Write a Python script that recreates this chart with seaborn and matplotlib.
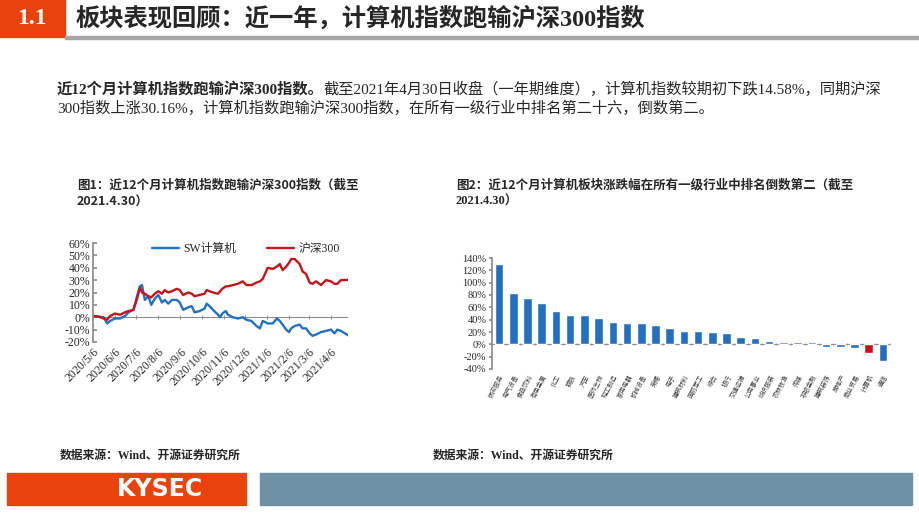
import numpy as np
import pandas as pd
import matplotlib
matplotlib.use('Agg')
import matplotlib.pyplot as plt
from matplotlib.patches import Rectangle
import seaborn as sns

# --- data: left chart (cumulative change since 2020-05-06, %) ---
dates = ['2020-05-06', '2020-05-14', '2020-05-21', '2020-05-26', '2020-05-30', '2020-06-06',
         '2020-06-13', '2020-06-20', '2020-06-25', '2020-07-02', '2020-07-07', '2020-07-11',
         '2020-07-14', '2020-07-18', '2020-07-23', '2020-07-27', '2020-08-01', '2020-08-06',
         '2020-08-11', '2020-08-15', '2020-08-20', '2020-08-25', '2020-09-01', '2020-09-05',
         '2020-09-10', '2020-09-17', '2020-09-22', '2020-09-26', '2020-10-03', '2020-10-10',
         '2020-10-13', '2020-10-17', '2020-10-22', '2020-10-29', '2020-11-01', '2020-11-04',
         '2020-11-09', '2020-11-12', '2020-11-19', '2020-11-26', '2020-12-03', '2020-12-08',
         '2020-12-15', '2020-12-22', '2020-12-27', '2020-12-31', '2021-01-07', '2021-01-14',
         '2021-01-20', '2021-01-24', '2021-01-28', '2021-02-02', '2021-02-06', '2021-02-09',
         '2021-02-14', '2021-02-21', '2021-02-25', '2021-03-02', '2021-03-07', '2021-03-11',
         '2021-03-16', '2021-03-23', '2021-03-30', '2021-04-06', '2021-04-11', '2021-04-15',
         '2021-04-20', '2021-04-30']
sw_computer = [1, 0.5, 0, -5, -3, -1, -1, 1, 4, 6, 17, 25,
               26, 14, 17, 10, 15, 18, 12, 14, 11, 14, 14, 12,
               6, 8, 9, 4, 5, 7, 11, 9, 6, 2, 0, 3,
               5, 2, 0, -1, 0, -2, -3, -7, -9, -3, -5, -5,
               -1, -3, -6, -10, -12, -9, -7, -6, -9, -9, -13, -15,
               -14, -12, -11, -10, -13, -10, -11, -14.58]
hs300 = [1, 0.5, -1, -2, 1, 3, 2, 4, 5, 6, 15, 24,
         20, 19, 17, 16, 19, 21, 19, 22, 20, 21, 23, 22,
         18, 20, 19, 17, 18, 19, 22, 21, 20, 19, 21, 23,
         25, 25, 26, 27, 29, 26, 26, 28, 29, 31, 40, 39,
         41, 43, 38, 41, 44, 47, 47, 43, 37, 35, 28, 27,
         29, 26, 30, 29, 27, 27, 30, 30.16]
line_names = ['SW计算机', '沪深300']
month_ticks = ['2020-05-06', '2020-06-06', '2020-07-06', '2020-08-06', '2020-09-06', '2020-10-06',
               '2020-11-06', '2020-12-06', '2021-01-06', '2021-02-06', '2021-03-06', '2021-04-06']

# --- data: right chart (12-month change by SW level-1 industry, %) ---
industries = ['休闲服务', '电气设备', '食品饮料', '有色金属', '化工', '钢铁', '汽车', '医药生物',
              '轻工制造', '家用电器', '机械设备', '采掘', '电子', '建筑材料', '国防军工', '综合',
              '银行', '交通运输', '公用事业', '纺织服装', '农林牧渔', '传媒', '非银金融',
              '建筑装饰', '房地产', '商业贸易', '计算机', '通信']
changes = [130, 83, 75, 67, 54, 48, 48, 42, 36, 34, 34, 31, 27, 22, 21, 20,
           19, 12, 10, 5, 4, 4, 4, -4, -4, -6, -14.58, -27]

W, H = 920, 518
BLUE = '#2470C0'
RED = '#C0151D'
ORANGE = '#E8430F'
GRAY = '#8C8C8C'

sns.set_theme(style='white')
plt.rcParams['font.family'] = ['Liberation Serif', 'Noto Sans CJK SC', 'DejaVu Sans']
plt.rcParams['axes.unicode_minus'] = False
CJK = ['Noto Sans CJK SC', 'DejaVu Sans']


def fx(x):
    return x / W


def fy(y):
    return 1 - y / H


fig = plt.figure(figsize=(W / 100, H / 100), dpi=100)


def box(x0, y0, x1, y1, color):
    fig.patches.append(Rectangle((fx(x0), fy(y1)), fx(x1 - x0), (y1 - y0) / H,
                                 transform=fig.transFigure, color=color, zorder=0))


# header
box(0, 0, 65, 37, ORANGE)
box(65, 36, 920, 39, '#A6A6A6')
fig.text(fx(32), fy(19), '1.1', color='white', fontsize=17, fontweight='bold',
         family='Liberation Serif', ha='center', va='center')
fig.text(fx(75), fy(19), '板块表现回顾：近一年，计算机指数跑输沪深300指数', fontsize=17.5,
         fontweight='bold', family=['Liberation Serif', 'Noto Sans CJK SC'], ha='left', va='center')

# paragraph
renderer = fig.canvas.get_renderer()
t_bold = fig.text(fx(57), fy(89), '近12个月计算机指数跑输沪深300指数。', fontsize=11,
                  fontweight='bold', ha='left', va='center')
bb = t_bold.get_window_extent(renderer)
fig.text(bb.x1 / fig.dpi / fig.get_figwidth(), fy(89),
         '截至2021年4月30日收盘（一年期维度），计算机指数较期初下跌14.58%，同期沪深',
         fontsize=11, ha='left', va='center')
fig.text(fx(57), fy(108), '300指数上涨30.16%，计算机指数跑输沪深300指数，在所有一级行业中排名第二十六，倒数第二。',
         fontsize=11, ha='left', va='center')

# figure titles
fig.text(fx(77), fy(185), '图1：近12个月计算机指数跑输沪深300指数（截至', fontsize=9,
         fontweight='bold', family=CJK, ha='left', va='center')
fig.text(fx(77), fy(202), '2021.4.30）', fontsize=9, fontweight='bold', family=CJK,
         ha='left', va='center')
fig.text(fx(456), fy(185), '图2：近12个月计算机板块涨跌幅在所有一级行业中排名倒数第二（截至',
         fontsize=9, fontweight='bold', family=CJK, ha='left', va='center')
fig.text(fx(456), fy(202), '2021.4.30）', fontsize=9, fontweight='bold', ha='left', va='center')

# --- left chart ---
ax1 = fig.add_axes([fx(93), fy(342), fx(348 - 93), (342 - 243) / H])
df = pd.DataFrame({'date': pd.to_datetime(dates * 2),
                   'value': sw_computer + hs300,
                   'series': [line_names[0]] * len(dates) + [line_names[1]] * len(dates)})
sns.lineplot(data=df, x='date', y='value', hue='series', palette=[BLUE, RED],
             linewidth=1.7, ax=ax1)
ax1.set_ylim(-20, 60)
ax1.set_yticks(np.arange(-20, 61, 10))
ax1.set_yticklabels([f'{v}%' for v in range(-20, 61, 10)], fontsize=8.5)
ax1.set_xlim(pd.Timestamp('2020-05-06'), pd.Timestamp('2021-04-30'))
tick_dates = pd.to_datetime(month_ticks)
ax1.set_xticks(tick_dates)
ax1.set_xticklabels([f'{d.year}/{d.month}/{d.day}' for d in tick_dates], fontsize=8.5,
                    rotation=45, ha='right', rotation_mode='anchor')
ax1.tick_params(axis='x', length=0, pad=3)
ax1.tick_params(axis='y', direction='in', length=3, color=GRAY, pad=2, left=True)
ax1.axhline(0, color=GRAY, lw=0.8, zorder=1)
ax1.plot(tick_dates[1:], np.zeros(len(tick_dates) - 1), ls='none', marker='|', ms=2.5,
         mew=0.7, color=GRAY, zorder=1)
for s in ['top', 'right', 'bottom']:
    ax1.spines[s].set_visible(False)
ax1.spines['left'].set_color(GRAY)
ax1.set_xlabel('')
ax1.set_ylabel('')
ax1.legend(loc='center', bbox_to_anchor=(0.6, 0.94), ncol=2, frameon=False, fontsize=8.5,
           handlelength=2.3, columnspacing=2.6, handletextpad=0.4)

# --- right chart ---
ax2 = fig.add_axes([fx(492), fy(369), fx(890 - 492), (369 - 258) / H])
bar_colors = [RED if name == '计算机' else BLUE for name in industries]
sns.barplot(x=industries, y=changes, hue=industries, palette=bar_colors, legend=False,
            width=0.6, saturation=1, ax=ax2)
ax2.set_ylim(-40, 140)
ax2.set_xlim(-0.5, len(industries) - 0.5)
ax2.set_yticks(np.arange(-40, 141, 20))
ax2.set_yticklabels([f'{v}%' for v in range(-40, 141, 20)], fontsize=7.5)
ax2.set_xticks(np.arange(len(industries)))
ax2.set_xticklabels(industries, fontsize=4.6, family=CJK, rotation=62, ha='right',
                    rotation_mode='anchor', color='#404040')
ax2.tick_params(axis='x', length=0, pad=3)
ax2.tick_params(axis='y', direction='out', length=2, color=GRAY, pad=2, left=True)
ax2.axhline(0, color=GRAY, lw=0.8, zorder=0)
ax2.plot(np.arange(-0.5, len(industries)), np.zeros(len(industries) + 1), ls='none',
         marker='|', ms=1.6, mew=0.6, color=GRAY, zorder=0)
for s in ['top', 'right', 'bottom']:
    ax2.spines[s].set_visible(False)
ax2.spines['left'].set_color(GRAY)
ax2.set_xlabel('')
ax2.set_ylabel('')

# sources
fig.text(fx(60), fy(456), '数据来源：Wind、开源证券研究所', fontsize=8.5, fontweight='bold',
         ha='left', va='center')
fig.text(fx(433), fy(456), '数据来源：Wind、开源证券研究所', fontsize=8.5, fontweight='bold',
         ha='left', va='center')

# footer
box(7, 473, 246, 505, ORANGE)
box(260, 473, 912, 505, '#6F91A6')
fig.text(fx(160), fy(489), 'KYSEC', color='white', fontsize=17, fontweight='bold',
         family='DejaVu Sans', ha='center', va='center')

fig.savefig('out.png', dpi=100)
